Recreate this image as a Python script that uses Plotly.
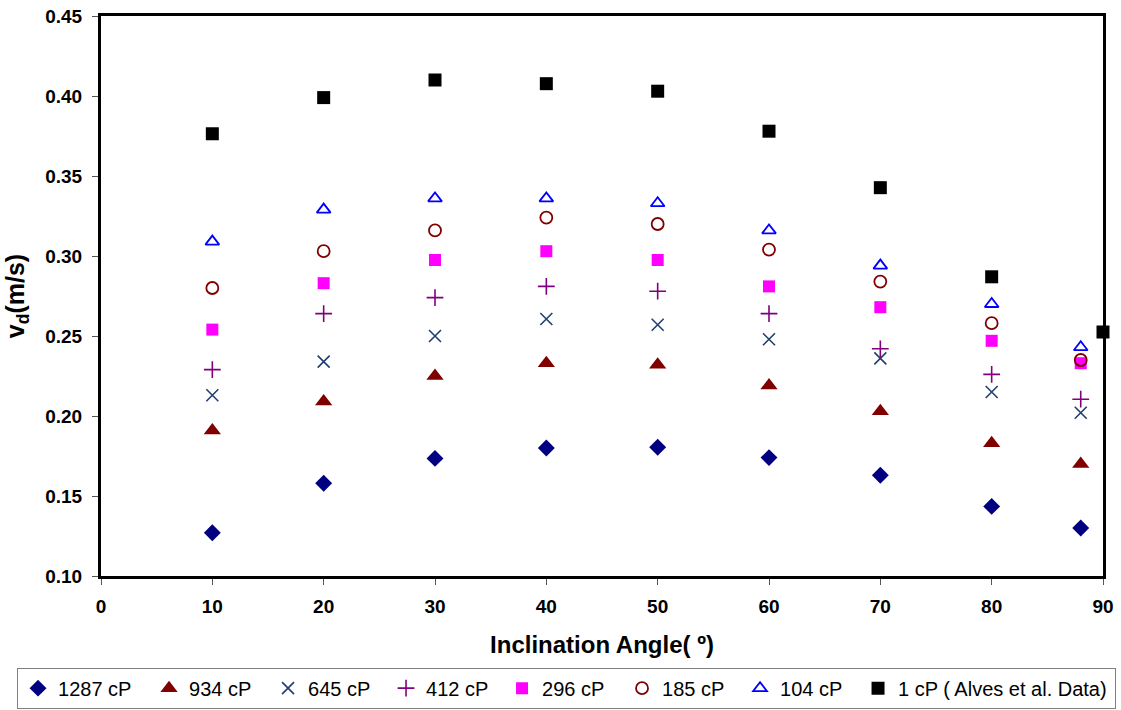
import plotly.graph_objects as go

# Inclination angles (degrees)
angles = [10, 20, 30, 40, 50, 60, 70, 80, 88]
angles_alves = [10, 20, 30, 40, 50, 60, 70, 80, 90]

# Drift velocity v_d (m/s) for each oil viscosity
v_1287 = [0.127, 0.158, 0.1735, 0.180, 0.1805, 0.174, 0.163, 0.1435, 0.130]
v_934 = [0.191, 0.209, 0.225, 0.233, 0.232, 0.219, 0.203, 0.183, 0.170]
v_645 = [0.213, 0.234, 0.250, 0.2606, 0.257, 0.248, 0.236, 0.215, 0.202]
v_412 = [0.229, 0.264, 0.274, 0.281, 0.278, 0.264, 0.242, 0.226, 0.2105]
v_296 = [0.254, 0.283, 0.2975, 0.303, 0.2975, 0.281, 0.268, 0.247, 0.233]
v_185 = [0.280, 0.303, 0.316, 0.324, 0.320, 0.304, 0.284, 0.258, 0.235]
v_104 = [0.309, 0.329, 0.336, 0.336, 0.333, 0.316, 0.294, 0.270, 0.243]
v_1 = [0.3764, 0.399, 0.410, 0.4077, 0.403, 0.378, 0.3427, 0.287, 0.2525]

# name, x, y, marker style, legend entry width (px)
series = [
    ("1287 cP", angles, v_1287, dict(symbol="diamond", size=13, color="#000080"), 86),
    ("934 cP", angles, v_934, dict(symbol="triangle-up", size=15, color="#800000"), 74),
    ("645 cP", angles, v_645, dict(symbol="x-thin-open", size=12, color="#1F3F6E",
                                   line=dict(width=1.6, color="#1F3F6E")), 73),
    ("412 cP", angles, v_412, dict(symbol="cross-thin-open", size=12, color="#800080",
                                   line=dict(width=1.6, color="#800080")), 71),
    ("296 cP", angles, v_296, dict(symbol="square", size=12, color="#FF00FF"), 75),
    ("185 cP", angles, v_185, dict(symbol="circle-open", size=12, color="#800000",
                                   line=dict(width=1.8, color="#800000")), 73),
    ("104 cP", angles, v_104, dict(symbol="triangle-up-open", size=12, color="#0000FF",
                                   line=dict(width=1.8, color="#0000FF")), 73),
    ("1 cP ( Alves et al. Data)", angles_alves, v_1,
     dict(symbol="square", size=13, color="#000000"), 212),
]

fig = go.Figure()
for name, xs, ys, marker, lw in series:
    fig.add_trace(go.Scatter(x=xs, y=ys, mode="markers", name=name,
                             marker=marker, cliponaxis=False, legendwidth=lw))

FONT = "Liberation Sans, Arial, sans-serif"
tick_font = dict(family=FONT, size=19, color="#000000")

fig.update_layout(
    width=1121,
    height=710,
    margin=dict(l=101, r=18, t=16, b=134, autoexpand=False),
    paper_bgcolor="white",
    plot_bgcolor="white",
    font=dict(family=FONT, color="#000000"),
    xaxis=dict(
        range=[0, 90], dtick=10, tick0=0,
        showline=True, linecolor="#000000", linewidth=3, mirror=True,
        showgrid=False, zeroline=False,
        ticks="outside", ticklen=6, tickcolor="#555555", tickwidth=1,
        ticklabelstandoff=5,
        tickfont=tick_font,
        tickprefix="<b>", ticksuffix="</b>",
        title=dict(text="<b>Inclination Angle( º)</b>",
                   font=dict(family=FONT, size=24),
                   standoff=21),
    ),
    yaxis=dict(
        range=[0.10, 0.45], dtick=0.05, tick0=0.10, tickformat=".2f",
        showline=True, linecolor="#000000", linewidth=3, mirror=True,
        showgrid=False, zeroline=False,
        ticks="outside", ticklen=6, tickcolor="#555555", tickwidth=1,
        ticklabelstandoff=6,
        tickfont=tick_font,
        tickprefix="<b>", ticksuffix="</b>",
        title=dict(text="<b>v<sub>d</sub>(m/s)</b>",
                   font=dict(family=FONT, size=25),
                   standoff=14),
    ),
    legend=dict(
        orientation="h",
        x=-0.0838, xanchor="left",
        y=-0.1637, yanchor="top",
        bordercolor="#808080", borderwidth=1,
        bgcolor="white",
        font=dict(family=FONT, size=20, color="#000000"),
        itemwidth=30,
        tracegroupgap=0,
    ),
    showlegend=True,
)

fig.write_html("out.html")
